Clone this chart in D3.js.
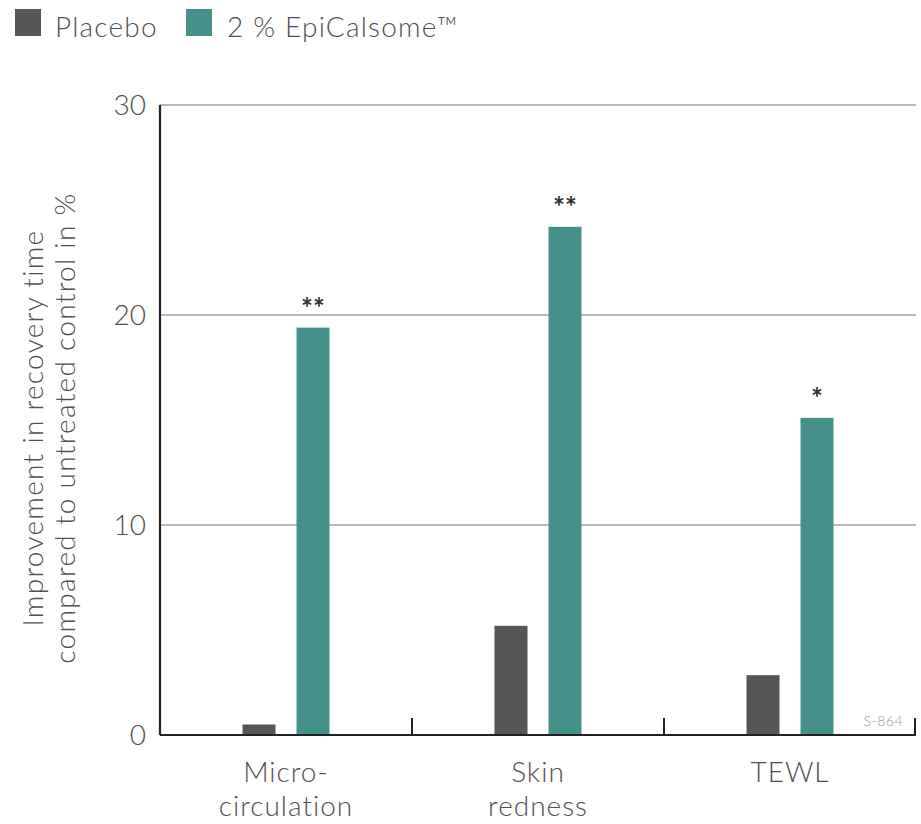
<!DOCTYPE html>
<html>
<head>
<meta charset="utf-8">
<script src="https://cdn.jsdelivr.net/npm/d3@7"></script>
<style>
  body { margin: 0; background: #fff; }
  text { font-family: Lato, "Open Sans", sans-serif; fill: #505050; font-weight: 300; }
</style>
</head>
<body>
<svg id="chart" width="921" height="824"></svg>
<script>
// data
const categories = [["Micro-", "circulation"], ["Skin", "redness"], ["TEWL"]];
const series = ["Placebo", "2 % EpiCalsome™"];
const placebo = [0.5, 5.2, 2.85];
const epicalsome = [19.4, 24.2, 15.1];
const stars = ["**", "**", "*"];
const yTicks = [0, 10, 20, 30];

const colors = ["#555757", "#44918b"];

const svg = d3.select("#chart");
const margin = { left: 160, right: 5, top: 105, bottom: 89 };
const W = 921, H = 824;
const innerW = W - margin.left - margin.right;
const innerH = H - margin.top - margin.bottom;

const g = svg.append("g").attr("transform", `translate(${margin.left},${margin.top})`);

const x = d3.scaleBand().domain(d3.range(categories.length)).range([0, innerW]);
const y = d3.scaleLinear().domain([0, 30]).range([innerH, 0]);

// gridlines
g.selectAll(".grid")
  .data(yTicks.filter(d => d > 0))
  .enter().append("line")
  .attr("x1", 0).attr("x2", innerW)
  .attr("y1", d => y(d)).attr("y2", d => y(d))
  .attr("stroke", "#a0a0a0").attr("stroke-width", 1.6);

// y tick labels
g.selectAll(".ylab")
  .data(yTicks)
  .enter().append("text")
  .attr("x", -14).attr("y", d => y(d))
  .attr("dy", "0.36em")
  .attr("text-anchor", "end")
  .style("font-size", "28px")
  .text(d => d);

// bars
const barW = 33, gap = 21;
const values = [placebo, epicalsome];
values.forEach((vals, s) => {
  g.selectAll(".bar" + s)
    .data(vals)
    .enter().append("rect")
    .attr("x", (d, i) => x(i) + x.bandwidth() / 2 + (s === 0 ? -gap / 2 - barW : gap / 2))
    .attr("y", d => y(d))
    .attr("width", barW)
    .attr("height", d => innerH - y(d))
    .attr("fill", colors[s]);
});

// significance stars
g.selectAll(".star")
  .data(epicalsome)
  .enter().append("text")
  .attr("x", (d, i) => x(i) + x.bandwidth() / 2 + gap / 2 + barW / 2)
  .attr("y", d => y(d) - 10)
  .attr("text-anchor", "middle")
  .style("font-size", "28px")
  .style("font-weight", "700")
  .style("fill", "#333")
  .text((d, i) => stars[i]);

// axes
g.append("line")
  .attr("x1", 0).attr("x2", 0).attr("y1", 0).attr("y2", innerH)
  .attr("stroke", "#222").attr("stroke-width", 2.2);
g.append("line")
  .attr("x1", 0).attr("x2", innerW).attr("y1", innerH).attr("y2", innerH)
  .attr("stroke", "#222").attr("stroke-width", 2.2);

// category separator ticks
g.selectAll(".sep")
  .data(d3.range(1, categories.length + 1))
  .enter().append("line")
  .attr("x1", i => Math.min(x.step() * i, innerW - 1))
  .attr("x2", i => Math.min(x.step() * i, innerW - 1))
  .attr("y1", innerH).attr("y2", innerH - 17)
  .attr("stroke", "#222").attr("stroke-width", 2);

// category labels
categories.forEach((lines, i) => {
  const t = g.append("text")
    .attr("x", x(i) + x.bandwidth() / 2)
    .attr("y", innerH + 47)
    .attr("text-anchor", "middle")
    .style("font-size", "28px")
    .style("letter-spacing", "1px");
  lines.forEach((l, k) => {
    t.append("tspan").attr("x", x(i) + x.bandwidth() / 2).attr("dy", k === 0 ? 0 : 34).text(l);
  });
});

// code label
g.append("text")
  .attr("x", innerW - 13).attr("y", innerH - 9)
  .attr("text-anchor", "end")
  .style("font-size", "14px")
  .style("letter-spacing", "0.5px")
  .style("fill", "#999")
  .text("S-864");

// y axis title
const yt = svg.append("text")
  .attr("transform", "translate(43,428) rotate(-90)")
  .attr("text-anchor", "middle")
  .style("font-size", "28px")
  .style("letter-spacing", "1.3px");
yt.append("tspan").attr("x", 0).attr("dy", 0).text("Improvement in recovery time");
yt.append("tspan").attr("x", 0).attr("dy", 32).text("compared to untreated control in %");

// legend
const legend = svg.append("g");
const legX = [15, 186];
const legTextX = [55, 227];
series.forEach((s, i) => {
  legend.append("rect")
    .attr("x", legX[i]).attr("y", 9)
    .attr("width", 26).attr("height", 27)
    .attr("fill", colors[i]);
  legend.append("text")
    .attr("x", legTextX[i]).attr("y", 37)
    .style("font-size", "28px")
    .style("letter-spacing", "1.2px")
    .text(s);
});
</script>
</body>
</html>
